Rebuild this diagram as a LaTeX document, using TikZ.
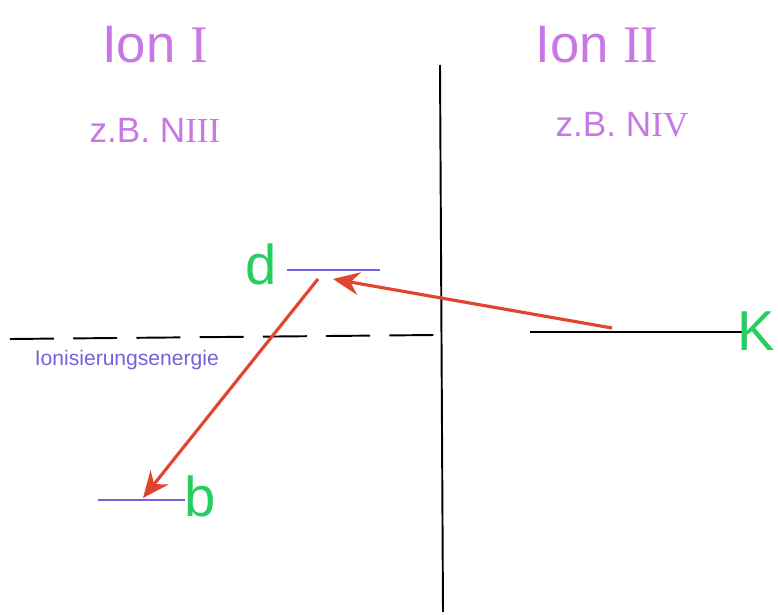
\documentclass[tikz,border=0pt]{standalone}
\usepackage{fontspec}
\setmainfont{Liberation Sans}
\newfontfamily\numfont{Liberation Serif}
\usepackage{xcolor}
\usepackage{tikz}
\usetikzlibrary{arrows.meta,positioning}

\definecolor{ionpurple}{RGB}{200,120,228}
\definecolor{levelblue}{RGB}{118,96,222}
\definecolor{labelgreen}{RGB}{40,205,95}
\definecolor{arrowred}{RGB}{226,68,48}

\begin{document}
\begin{tikzpicture}[x=0.02cm, y=-0.02cm, line width=1.1pt]

    \tikzstyle{title}=[text=ionpurple, font=\fontsize{30}{32}\selectfont]
    \tikzstyle{example}=[text=ionpurple, font=\fontsize{20}{22}\selectfont]
    \tikzstyle{level}=[draw=levelblue, line width=1.4pt]
    \tikzstyle{levellabel}=[text=labelgreen, font=\fontsize{32}{34}\selectfont, inner sep=0pt]
    \tikzstyle{transition}=[draw=arrowred, line width=1.8pt, -{Stealth[length=15pt, width=13pt]}]

    \useasboundingbox (0,0) rectangle (778,615);

    % titles
    \node[title] (IONI) at (155,45) {Ion {\numfont I}};
    \node[title] (IONII) at (597,45) {Ion {\numfont II}};
    \node[example] (EXI) at (155,130) {z.B. N{\numfont III}};
    \node[example] (EXII) at (622,125) {z.B. N{\numfont IV}};

    % separating axis
    \coordinate (TOP) at (440,65);
    \coordinate (BOTTOM) at (443,612);
    \draw (TOP) -- (BOTTOM);

    % ionisation limit
    \coordinate (LIMITL) at (10,339);
    \coordinate (LIMITR) at (435,335);
    \draw[dash pattern=on 25pt off 11pt] (LIMITL) -- (LIMITR);
    \node[text=levelblue, font=\fontsize{12}{14}\selectfont, anchor=west] (LIMIT) at (28,360) {Ionisierungsenergie};

    % levels
    \coordinate (DL) at (287,270);
    \coordinate (DR) at (380,270);
    \draw[level] (DL) -- (DR);
    \node[levellabel, anchor=base east] (d) at (278,284) {d};

    \coordinate (BL) at (98,500);
    \coordinate (BR) at (185,500);
    \draw[level] (BL) -- (BR);
    \node[levellabel, anchor=base west] (b) at (184,516) {b};

    \coordinate (KL) at (530,332);
    \coordinate (KR) at (742,332);
    \draw (KL) -- (KR);
    \node[levellabel, anchor=base east] (K) at (776,350) {K};

    % transitions
    \coordinate (KOUT) at (612,328);
    \coordinate (DIN) at (333,279);
    \coordinate (DOUT) at (318,279);
    \coordinate (BIN) at (143,498);
    \path (KOUT) edge[transition] (DIN);
    \path (DOUT) edge[transition] (BIN);

\end{tikzpicture}
\end{document}
